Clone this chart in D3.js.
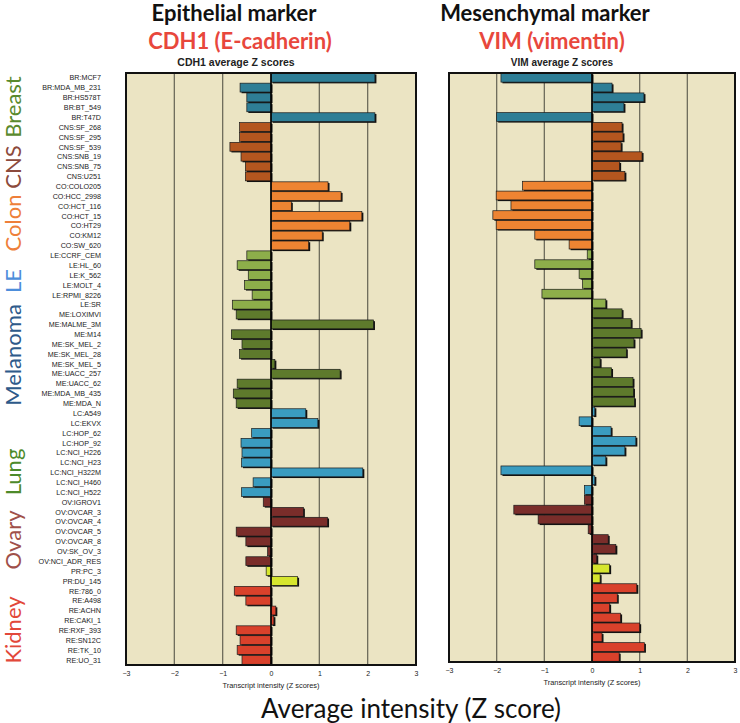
<!DOCTYPE html>
<html>
<head>
<meta charset="utf-8">
<script src="https://cdn.jsdelivr.net/npm/d3@7/dist/d3.min.js"></script>
<style>
  html, body { margin: 0; padding: 0; background: #ffffff; }
  svg { display: block; }
</style>
</head>
<body>
<svg id="chart" width="740" height="723"></svg>
<script>
// ---------------- DATA ----------------
const cellLines = [
  "BR:MCF7","BR:MDA_MB_231","BR:HS578T","BR:BT_549","BR:T47D",
  "CNS:SF_268","CNS:SF_295","CNS:SF_539","CNS:SNB_19","CNS:SNB_75","CNS:U251",
  "CO:COLO205","CO:HCC_2998","CO:HCT_116","CO:HCT_15","CO:HT29","CO:KM12","CO:SW_620",
  "LE:CCRF_CEM","LE:HL_60","LE:K_562","LE:MOLT_4","LE:RPMI_8226","LE:SR",
  "ME:LOXIMVI","ME:MALME_3M","ME:M14","ME:SK_MEL_2","ME:SK_MEL_28","ME:SK_MEL_5","ME:UACC_257","ME:UACC_62","ME:MDA_MB_435","ME:MDA_N",
  "LC:A549","LC:EKVX","LC:HOP_62","LC:HOP_92","LC:NCI_H226","LC:NCI_H23","LC:NCI_H322M","LC:NCI_H460","LC:NCI_H522",
  "OV:IGROV1","OV:OVCAR_3","OV:OVCAR_4","OV:OVCAR_5","OV:OVCAR_8","OV:SK_OV_3","OV:NCI_ADR_RES",
  "PR:PC_3","PR:DU_145",
  "RE:786_0","RE:A498","RE:ACHN","RE:CAKI_1","RE:RXF_393","RE:SN12C","RE:TK_10","RE:UO_31"
];

// CDH1 (E-cadherin) average Z scores
const cdh1 = [
  2.15, -0.64, -0.50, -0.50, 2.15,
  -0.65, -0.65, -0.85, -0.62, -0.53, -0.53,
  1.18, 1.45, 0.42, 1.88, 1.63, 1.06, 0.78,
  -0.50, -0.70, -0.47, -0.55, -0.39, -0.80,
  -0.72, 2.12, -0.82, -0.60, -0.65, 0.08, 1.43, -0.70, -0.78, -0.72,
  0.72, 0.97, -0.40, -0.62, -0.60, -0.61, 1.90, -0.37, -0.61,
  -0.16, 0.67, 1.17, -0.72, -0.52, -0.07, -0.52,
  -0.10, 0.55,
  -0.76, -0.52, 0.10, 0.06, -0.72, -0.64, -0.70, -0.60
];

// VIM (vimentin) average Z scores
const vim = [
  -1.91, 0.42, 1.09, 0.67, -2.00,
  0.63, 0.65, 0.61, 1.05, 0.58, 0.69,
  -1.46, -2.01, -1.70, -2.08, -2.01, -1.20, -0.48,
  -0.10, -1.20, -0.27, -0.20, -1.05, 0.29,
  0.63, 0.82, 1.03, 0.88, 0.72, 0.17, 0.41, 0.86, 0.87, 0.89,
  0.06, -0.27, 0.40, 0.92, 0.69, 0.29, -1.91, 0.06, -0.16,
  -0.16, -1.64, -1.13, -0.08, 0.34, 0.50, 0.10,
  0.37, 0.17,
  0.94, 0.53, 0.37, 0.60, 1.00, 0.21, 1.10, 0.57
];

const tickValues = [-3, -2, -1, 0, 1, 2, 3];
const gridValues = [-2, -1, 1, 2];

const prefixes   = ["BR", "CNS", "CO", "LE", "ME", "LC", "OV", "PR", "RE"];
const barColors  = ["#2E7E96", "#B4561F", "#EE8432", "#8DAE4A", "#5E7A2C", "#3A9CC0", "#7A2D2A", "#D6E62E", "#D9412B"];

const tissueNames  = ["Breast", "CNS", "Colon", "LE", "Melanoma", "Lung", "Ovary", "Kidney"];
const tissueColors = ["#5A8A2E", "#8C4A3C", "#EE7F3A", "#4D8EDB", "#2E5A8A", "#4D8A2A", "#A0504A", "#E2483A"];

const panelTitles   = ["Epithelial marker", "Mesenchymal marker"];
const geneTitles    = ["CDH1 (E-cadherin)", "VIM (vimentin)"];
const subTitles     = ["CDH1 average Z scores", "VIM average Z scores"];
const axisTitle     = "Transcript intensity (Z  scores)";
const bottomTitle   = "Average intensity (Z score)";

// ---------------- LAYOUT ----------------
const svg = d3.select("#chart");
const colorOf = d3.scaleOrdinal().domain(prefixes).range(barColors);
const prefixOf = s => s.split(":")[0];

const panels = [
  { values: cdh1, x0: 126, x1: 416, y0: 73, y1: 665, titleX: 234, geneX: 240, subX: 236, subSize: 10.5, tickY: 677, axisTitleY: 688 },
  { values: vim,  x0: 449, x1: 735, y0: 73, y1: 662, titleX: 545, geneX: 552, subX: 562, subSize: 10, tickY: 674, axisTitleY: 685 }
];

// Row labels
const yLab = d3.scaleBand().domain(cellLines).range([panels[0].y0, panels[0].y1]).padding(0);

svg.append("g")
  .selectAll("text")
  .data(cellLines)
  .join("text")
  .attr("x", 101)
  .attr("y", d => yLab(d) + yLab.bandwidth() / 2)
  .attr("dy", "0.35em")
  .attr("text-anchor", "end")
  .attr("font-family", "Liberation Sans, Arial, sans-serif")
  .attr("font-size", 7.2)
  .attr("fill", "#222")
  .text(d => d);

// Tissue labels (rotated)
const tissueCenters = [107, 167, 223, 281, 355, 472, 540, 630];
svg.append("g")
  .selectAll("text")
  .data(tissueNames)
  .join("text")
  .attr("transform", (d, i) => `translate(21,${tissueCenters[i]}) rotate(-90)`)
  .attr("text-anchor", "middle")
  .attr("font-family", "Lato, 'Open Sans', sans-serif")
  .attr("font-size", 22)
  .attr("fill", (d, i) => tissueColors[i])
  .text(d => d);

panels.forEach((p, pi) => {
  const x = d3.scaleLinear().domain([-3, 3]).range([p.x0, p.x1]);
  const y = d3.scaleBand().domain(cellLines).range([p.y0, p.y1]).padding(0);
  const g = svg.append("g");

  // Titles
  g.append("text")
    .attr("x", p.titleX).attr("y", 21)
    .attr("text-anchor", "middle")
    .attr("font-family", "Lato, 'Open Sans', sans-serif")
    .attr("font-weight", 700)
    .attr("font-size", 22)
    .attr("fill", "#111")
    .text(panelTitles[pi]);
  g.append("text")
    .attr("x", p.geneX).attr("y", 49)
    .attr("text-anchor", "middle")
    .attr("font-family", "Lato, 'Open Sans', sans-serif")
    .attr("font-weight", 700)
    .attr("font-size", 22)
    .attr("fill", "#E8473C")
    .text(geneTitles[pi]);
  g.append("text")
    .attr("x", p.subX).attr("y", 66)
    .attr("text-anchor", "middle")
    .attr("font-family", "Liberation Sans, Arial, sans-serif")
    .attr("font-weight", 700)
    .attr("font-size", p.subSize)
    .attr("fill", "#222")
    .text(subTitles[pi]);

  // Panel background
  g.append("rect")
    .attr("x", p.x0).attr("y", p.y0)
    .attr("width", p.x1 - p.x0).attr("height", p.y1 - p.y0)
    .attr("fill", "#EBE4C3");

  // Grid lines
  g.append("g")
    .selectAll("line")
    .data(gridValues)
    .join("line")
    .attr("x1", d => x(d)).attr("x2", d => x(d))
    .attr("y1", p.y0).attr("y2", p.y1)
    .attr("stroke", "#6E6C5C")
    .attr("stroke-width", 1.3);

  // Bars: shadow then bar
  const bars = cellLines.map((c, i) => ({ c, v: p.values[i] }));
  const bw = y.bandwidth();
  g.append("g")
    .selectAll("rect")
    .data(bars)
    .join("rect")
    .attr("x", d => Math.min(x(0), x(d.v)) + 1.5)
    .attr("y", d => y(d.c) + 1.5)
    .attr("width", d => Math.abs(x(d.v) - x(0)))
    .attr("height", bw - 1)
    .attr("fill", "#111");
  g.append("g")
    .selectAll("rect")
    .data(bars)
    .join("rect")
    .attr("x", d => Math.min(x(0), x(d.v)))
    .attr("y", d => y(d.c) + 0.3)
    .attr("width", d => Math.abs(x(d.v) - x(0)))
    .attr("height", bw - 1)
    .attr("fill", d => colorOf(prefixOf(d.c)))
    .attr("stroke", "#1a1a1a")
    .attr("stroke-width", 0.7);

  // Zero line
  g.append("line")
    .attr("x1", x(0)).attr("x2", x(0))
    .attr("y1", p.y0).attr("y2", p.y1)
    .attr("stroke", "#000")
    .attr("stroke-width", 1.6);

  // Border
  g.append("rect")
    .attr("x", p.x0).attr("y", p.y0)
    .attr("width", p.x1 - p.x0).attr("height", p.y1 - p.y0)
    .attr("fill", "none")
    .attr("stroke", "#111")
    .attr("stroke-width", 2);

  // Axis
  const ax = g.append("g")
    .attr("transform", `translate(0,${p.tickY - 6})`)
    .call(d3.axisBottom(x).tickValues(tickValues).tickSize(0).tickPadding(0).tickFormat(d3.format("d")));
  ax.select(".domain").remove();
  ax.selectAll("text")
    .attr("font-family", "Liberation Sans, Arial, sans-serif")
    .attr("font-size", 7)
    .attr("fill", "#222")
    .attr("dy", "0.71em");

  g.append("text")
    .attr("x", x(0)).attr("y", p.axisTitleY)
    .attr("text-anchor", "middle")
    .attr("font-family", "Liberation Sans, Arial, sans-serif")
    .attr("font-size", 7.4)
    .attr("fill", "#222")
    .text(axisTitle);
});

svg.append("text")
  .attr("x", 411).attr("y", 718)
  .attr("text-anchor", "middle")
  .attr("font-family", "Lato, 'Open Sans', sans-serif")
  .attr("font-size", 26)
  .attr("fill", "#111")
  .text(bottomTitle);
</script>
</body>
</html>
